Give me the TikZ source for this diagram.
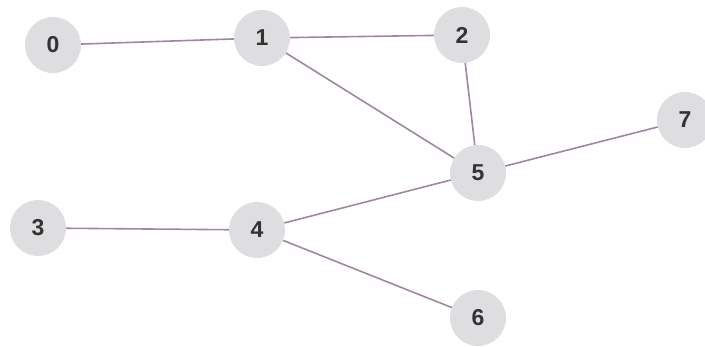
\documentclass[tikz,border=0pt]{standalone}
\usepackage{fontspec}
\setmainfont{Liberation Sans}
\definecolor{nodefill}{HTML}{DEDEE0}
\definecolor{edgecol}{HTML}{9E889F}
\definecolor{txtcol}{HTML}{333333}
\begin{document}
\begin{tikzpicture}[x=1pt,y=-1pt,
  vert/.style={circle,fill=nodefill,minimum size=56pt,inner sep=0pt,font=\fontsize{23}{23}\selectfont\bfseries,text=txtcol},
  edge/.style={draw=edgecol,line width=1.6pt}]
\useasboundingbox (0,0) rectangle (705,347);
\node[vert] (n0) at (53,45) {0};
\node[vert] (n1) at (262,38) {1};
\node[vert] (n2) at (462,35) {2};
\node[vert] (n7) at (685,120) {7};
\node[vert] (n5) at (478,173) {5};
\node[vert] (n3) at (38,228) {3};
\node[vert] (n4) at (257,230) {4};
\node[vert] (n6) at (478,318) {6};
\draw[edge] (n0) -- (n1);
\draw[edge] (n1) -- (n2);
\draw[edge] (n1) -- (n5);
\draw[edge] (n2) -- (n5);
\draw[edge] (n5) -- (n7);
\draw[edge] (n4) -- (n5);
\draw[edge] (n3) -- (n4);
\draw[edge] (n4) -- (n6);
\end{tikzpicture}
\end{document}
